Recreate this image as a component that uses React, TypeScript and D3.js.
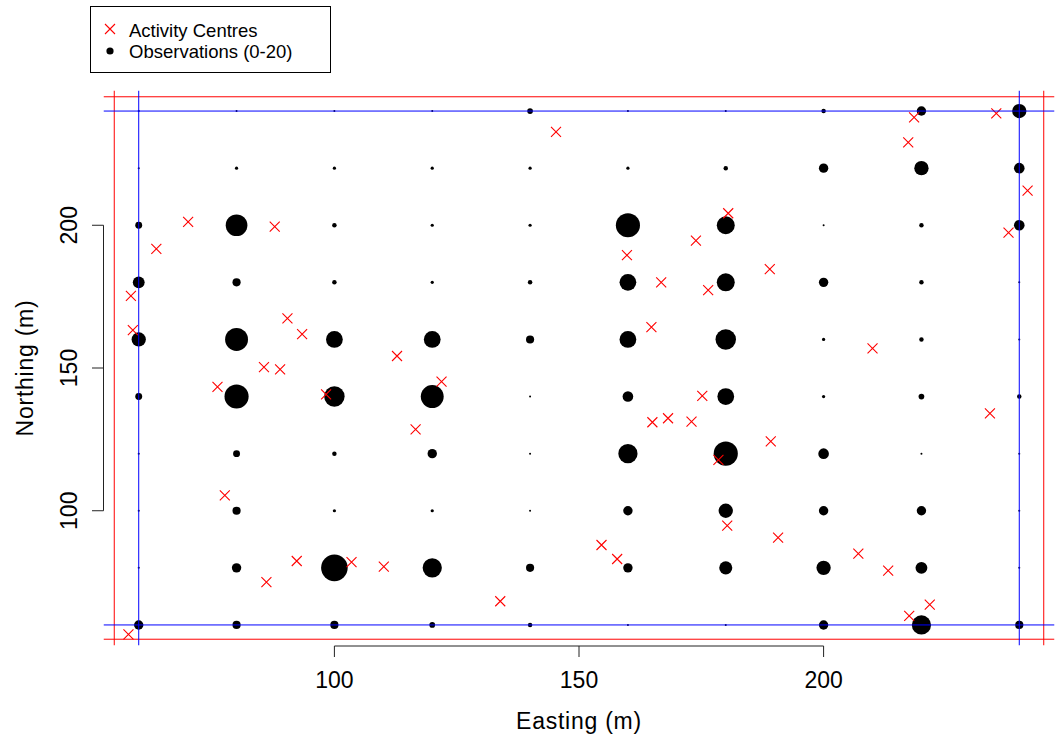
import React from 'react';
import * as d3 from 'd3';

// Trap grid (Easting / Northing, m)
const xGrid = [60, 80, 100, 120, 140, 160, 180, 200, 220, 240];
const yGrid = [240, 220, 200, 180, 160, 140, 120, 100, 80, 60];
// Observation counts per trap (rows follow yGrid, columns follow xGrid)
const counts: number[][] = [
  [0, 0, 0, 0, 3, 0, 0, 2, 6, 10],
  [0, 1, 1, 1, 1, 1, 2, 6, 10, 7],
  [4, 16, 2, 1, 1, 18, 13, 0, 2, 7],
  [8, 5, 2, 1, 2, 12, 13, 6, 2, 0],
  [10, 17, 12, 12, 5, 12, 15, 1, 2, 0],
  [4, 18, 15, 17, 0, 7, 12, 1, 3, 2],
  [0, 4, 2, 6, 0, 14, 18, 7, 0, 0],
  [0, 5, 1, 1, 0, 6, 10, 6, 6, 0],
  [0, 6, 20, 14, 5, 6, 9, 10, 8, 0],
  [6, 5, 5, 3, 2, 0, 0, 6, 14, 5],
];

// Activity centres
const acX = [58.4, 58.8, 63.6, 70.1, 87.8, 76.1, 77.6, 85.6, 88.9, 90.4, 93.4, 98.3, 103.5, 110.1, 112.8, 116.6, 121.9, 92.3, 86.1, 133.9, 57.9, 145.3, 154.6, 157.8, 159.8, 164.8, 165.0, 166.8, 168.2, 173.0, 173.9, 175.2, 176.4, 178.5, 180.3, 180.5, 189.0, 189.2, 190.7, 207.1, 210.0, 213.2, 217.3, 218.5, 217.5, 221.7, 234.0, 235.3, 237.8, 241.7];
const acY = [175.3, 163.3, 191.7, 201.2, 199.5, 143.4, 105.4, 150.3, 149.5, 167.4, 161.9, 140.8, 82.0, 80.4, 154.2, 128.5, 145.2, 82.4, 75.0, 68.3, 56.7, 232.7, 88.0, 83.1, 189.5, 164.3, 131.0, 180.0, 132.4, 131.2, 194.6, 140.2, 177.3, 117.8, 94.8, 204.2, 184.6, 124.3, 90.6, 85.0, 156.9, 79.0, 229.0, 237.8, 63.2, 67.1, 134.1, 239.2, 197.4, 212.1];

const xTicks = [100, 150, 200];
const yTicks = [100, 150, 200];
const outerBounds = [55, 245];
const innerBounds = [60, 240];
const legendLabels = ['Activity Centres', 'Observations (0-20)'];

const W = 1055;
const H = 743;
const FONT = '"Liberation Sans", Arial, sans-serif';

export default function App() {
  const x = d3.scaleLinear().domain([52.8, 247.2]).range([103.5, 1054.5]);
  const y = d3.scaleLinear().domain([52.8, 247.2]).range([645.5, 90.5]);
  const r = d3.scaleLinear().domain([0, 20]).range([1, 13.3]);

  const [pl, pr] = x.range();
  const [pb, pt] = y.range();

  const dots: { cx: number; cy: number; rr: number }[] = [];
  yGrid.forEach((gy, i) =>
    xGrid.forEach((gx, j) => {
      dots.push({ cx: x(gx), cy: y(gy), rr: r(counts[i][j]) });
    })
  );

  const cs = 5;
  const cross = (cx: number, cy: number, key: any) => (
    <path
      key={key}
      d={`M${cx - cs},${cy - cs}L${cx + cs},${cy + cs}M${cx - cs},${cy + cs}L${cx + cs},${cy - cs}`}
      stroke="#ff0000"
      strokeWidth={1.1}
      fill="none"
    />
  );

  return (
    <svg
      width={W}
      height={H}
      style={{ position: 'absolute', left: 0, top: 0, background: '#fff' }}
      fontFamily={FONT}
    >
      <defs>
        <clipPath id="plotclip">
          <rect x={pl} y={pt} width={pr - pl} height={pb - pt} />
        </clipPath>
      </defs>
      <rect x={0} y={0} width={W} height={H} fill="#fff" />

      {/* observations */}
      <g>
        {dots.map((d, i) => (
          <circle key={i} cx={d.cx} cy={d.cy} r={d.rr} fill="#000" />
        ))}
      </g>

      {/* activity centres */}
      <g>{acX.map((ax, i) => cross(x(ax), y(acY[i]), i))}</g>

      {/* boundary lines */}
      <g clipPath="url(#plotclip)">
        {outerBounds.map((v) => (
          <g key={'o' + v}>
            <line x1={x(v)} x2={x(v)} y1={pt} y2={pb} stroke="#ff0000" strokeWidth={1} />
            <line x1={pl} x2={pr} y1={y(v)} y2={y(v)} stroke="#ff0000" strokeWidth={1} />
          </g>
        ))}
        {innerBounds.map((v) => (
          <g key={'i' + v}>
            <line x1={x(v)} x2={x(v)} y1={pt} y2={pb} stroke="#0000ff" strokeWidth={1} />
            <line x1={pl} x2={pr} y1={y(v)} y2={y(v)} stroke="#0000ff" strokeWidth={1} />
          </g>
        ))}
      </g>

      {/* x axis */}
      <g stroke="#222" strokeWidth={1}>
        <line x1={x(xTicks[0])} x2={x(xTicks[xTicks.length - 1])} y1={646} y2={646} />
        {xTicks.map((t) => (
          <line key={t} x1={x(t)} x2={x(t)} y1={646} y2={657} />
        ))}
      </g>
      {xTicks.map((t) => (
        <text key={t} x={x(t)} y={688} fontSize={23} textAnchor="middle" fill="#000">
          {t}
        </text>
      ))}
      <text
        x={(pl + pr) / 2}
        y={729}
        fontSize={23}
        letterSpacing={0.75}
        textAnchor="middle"
        fill="#000"
      >
        Easting (m)
      </text>

      {/* y axis */}
      <g stroke="#222" strokeWidth={1}>
        <line x1={103.5} x2={103.5} y1={y(yTicks[0])} y2={y(yTicks[yTicks.length - 1])} />
        {yTicks.map((t) => (
          <line key={t} x1={92} x2={103.5} y1={y(t)} y2={y(t)} />
        ))}
      </g>
      {yTicks.map((t) => (
        <text
          key={t}
          transform={`translate(77,${y(t)}) rotate(-90)`}
          fontSize={23}
          textAnchor="middle"
          fill="#000"
        >
          {t}
        </text>
      ))}
      <text
        transform={`translate(33,${(pt + pb) / 2}) rotate(-90)`}
        fontSize={23}
        letterSpacing={0.75}
        textAnchor="middle"
        fill="#000"
      >
        Northing (m)
      </text>

      {/* legend */}
      <rect x={90.5} y={6.5} width={240} height={66} fill="#fff" stroke="#000" strokeWidth={1} />
      {cross(110, 29, 'lg')}
      <circle cx={110} cy={51} r={3.6} fill="#000" />
      <text x={129} y={36.5} fontSize={18.5} fill="#000">
        {legendLabels[0]}
      </text>
      <text x={129} y={58.3} fontSize={18.5} fill="#000">
        {legendLabels[1]}
      </text>
    </svg>
  );
}
